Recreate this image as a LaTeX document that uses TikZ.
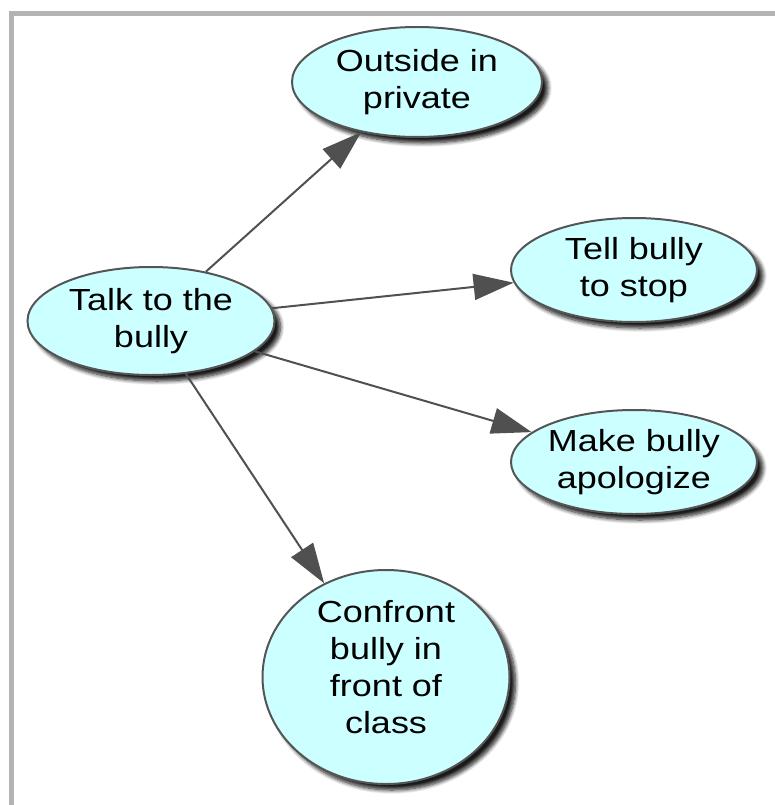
\documentclass[tikz,border=0pt]{standalone}
\usepackage{fontspec}
\setmainfont{Liberation Sans}[FakeStretch=1.18]
\usetikzlibrary{shapes.geometric,arrows.meta,shadows.blur}
\definecolor{nodefill}{HTML}{CCFFFF}
\definecolor{nodeline}{HTML}{555555}
\definecolor{edgecol}{HTML}{505050}
\definecolor{framecol}{HTML}{B3B3B3}
\tikzset{
  ideabase/.style={ellipse, draw=nodeline, line width=2pt, fill=nodefill, inner sep=0pt,
    font=\fontsize{30.5}{37}\selectfont,
    blur shadow={shadow xshift=6pt, shadow yshift=-6pt, shadow blur steps=8, shadow blur radius=4pt, shadow opacity=90}},
  idea/.style={ideabase, align=center},
  link/.style={draw=edgecol, line width=2pt, -{Triangle[length=40pt,width=26pt]}}
}
\begin{document}
\begin{tikzpicture}[x=1pt,y=-1pt]
\useasboundingbox (0,0) rectangle (775,805);
\fill[framecol] (9,11) rectangle (775,16);
\fill[framecol] (9,11) rectangle (14,805);
\node[idea, minimum width=250pt, minimum height=110pt] (out) at (417,82) {Outside in\\private};
\node[idea, minimum width=246pt, minimum height=104pt] (tell) at (634,270) {Tell bully\\to stop};
\node[idea, minimum width=247pt, minimum height=108pt] (talk) at (151,321) {Talk to the\\bully};
\node[idea, minimum width=246pt, minimum height=104pt] (make) at (634,462) {Make bully\\apologize};
\node[ideabase, minimum width=247pt, minimum height=214pt] (conf) at (386,677) {\smash{\begin{tabular}{@{}c@{}}Confront\\bully in\\front of\\class\end{tabular}}};
\draw[link] (talk) -- (out);
\draw[link] (talk) -- (tell);
\draw[link] (talk) -- (make);
\draw[link] (talk) -- (conf);
\end{tikzpicture}
\end{document}
